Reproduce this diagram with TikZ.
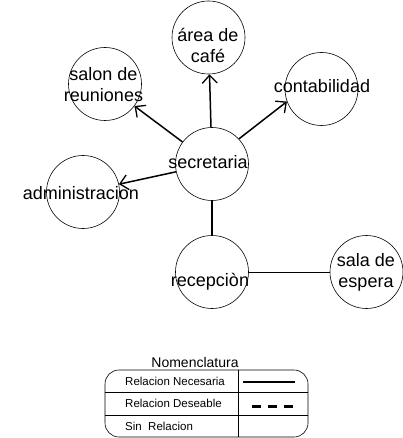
\documentclass[tikz,border=0pt]{standalone}
\usepackage{fontspec}
\setmainfont{Liberation Sans}
\usetikzlibrary{arrows.meta}

\begin{document}
\begin{tikzpicture}[x=1pt, y=-1pt,
  area/.style={circle, draw, line width=0.6pt, minimum size=73pt, inner sep=0pt},
  nombre/.style={font=\fontsize{18}{21}\selectfont, align=center, inner sep=0pt, text height=13pt, text depth=4pt},
  flecha/.style={line width=1.5pt, -{Straight Barb[length=8pt, width=15pt, line width=1.3pt]}},
  enlace/.style={line width=1.5pt},
  fila/.style={font=\fontsize{11.5}{13}\selectfont, anchor=west, inner sep=0pt}]
\useasboundingbox (0,0) rectangle (402,438);
\node[area] (cafe) at (208.5,37.5) {};
\node[area] (salon) at (105,84) {};
\node[area] (conta) at (321.5,89) {};
\node[area] (sec) at (212,164) {};
\node[area] (admin) at (83,192) {};
\node[area] (rec) at (212,272) {};
\node[area] (sala) at (366.5,272) {};
\node[nombre] (cafe-t) at (208,58) {área de\\café};
\node[nombre] (salon-t) at (103.5,97) {salon de\\reuniones};
\node[nombre] (conta-t) at (322,88) {contabilidad};
\node[nombre] (sec-t) at (208,164) {secretaria};
\node[nombre] (admin-t) at (81,195) {administracion};
\node[nombre] (rec-t) at (210,281.5) {recepciòn};
\node[nombre] (sala-t) at (366,283) {sala de\\espera};
\draw[flecha] (sec) -- (cafe);
\draw[flecha] (sec) -- (salon);
\draw[flecha] (sec.43) -- (conta.200);
\draw[flecha] (sec) -- (admin);
\draw[enlace] (sec) -- (rec);
\draw[line width=0.8pt] (rec) -- (sala);
\node[font=\fontsize{14}{16}\selectfont, inner sep=0pt] (nom) at (195,362) {Nomenclatura};
\draw[line width=0.6pt, rounded corners=14pt] (105,370) rectangle (308,437);
\draw[line width=0.6pt] (105,392) -- (308,392) (105,415) -- (308,415) (238,370) -- (238,437);
\node[fila] (nec) at (125,381) {Relacion Necesaria};
\node[fila] (des) at (125,403.5) {Relacion Deseable};
\node[fila] (sin) at (125,426) {Sin\ \ Relacion};
\draw[line width=2pt] (243,382) -- (295,382);
\draw[line width=3pt, dash pattern=on 9pt off 7pt] (252,406) -- (293,406);
\end{tikzpicture}
\end{document}
